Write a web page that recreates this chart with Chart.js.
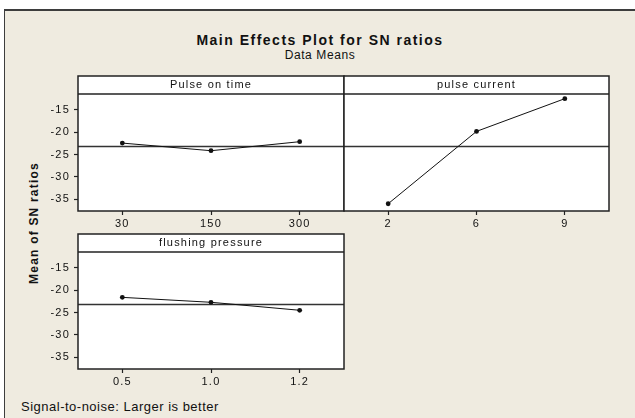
<!DOCTYPE html>
<html>
<head>
<meta charset="utf-8">
<script src="https://cdn.jsdelivr.net/npm/chart.js@4.4.1/dist/chart.umd.min.js"></script>
<style>
html,body{margin:0;padding:0;background:#fff;}
#page{position:relative;width:635px;height:418px;overflow:hidden;background:#fff;}
#frame{position:absolute;left:4px;top:9px;width:700px;height:500px;background:#EFEBE0;border-top:2px solid #3d3d3d;border-left:1.5px solid #3d3d3d;}
.txt{position:absolute;color:#111;font-family:'Liberation Sans',Arial,sans-serif;white-space:nowrap;}
#title{left:120px;width:400px;top:32px;line-height:16px;text-align:center;font-weight:bold;font-size:14px;letter-spacing:1.5px;}
#subtitle{left:120px;width:400px;top:47px;line-height:16px;text-align:center;font-size:12px;letter-spacing:0.6px;}
#ylabel{left:-46px;width:160px;top:215px;line-height:16px;text-align:center;font-weight:bold;font-size:12px;letter-spacing:1.2px;transform:rotate(-90deg);}
#footnote{left:21px;top:399px;line-height:16px;font-size:13px;letter-spacing:0.5px;}
canvas{position:absolute;}
#cA{left:0px;top:70px;}
#cB{left:338px;top:70px;}
#cC{left:0px;top:228px;}
</style>
</head>
<body>
<div id="page">
  <div id="frame"></div>
  <div class="txt" id="title">Main Effects Plot for SN ratios</div>
  <div class="txt" id="subtitle">Data Means</div>
  <div class="txt" id="ylabel">Mean of SN ratios</div>
  <div class="txt" id="footnote">Signal-to-noise: Larger is better</div>
  <canvas id="cA" width="350" height="160"></canvas>
  <canvas id="cB" width="277" height="160"></canvas>
  <canvas id="cC" width="350" height="160"></canvas>
</div>
<script>
// ---- data ----
const factorNames = ['Pulse on time', 'pulse current', 'flushing pressure'];
const pulseOnTimeLevels = ['30', '150', '300'];
const pulseOnTimeSN = [-22.45, -24.15, -22.14];
const pulseCurrentLevels = ['2', '6', '9'];
const pulseCurrentSN = [-35.98, -19.84, -12.54];
const flushingPressureLevels = ['0.5', '1.0', '1.2'];
const flushingPressureSN = [-21.62, -22.72, -24.5];
const overallMean = -23.1;
const yTickValues = [-35, -30, -25, -20, -15];
const yMin = -37.6;
const yMax = -11.5;

// ---- drawing ----
const FONT = "'Liberation Sans', Arial, sans-serif";
const STRIP_H = 18;

const panelPlugin = {
  id: 'panelFrame',
  beforeDraw(chart) {
    const ctx = chart.ctx;
    ctx.letterSpacing = '1.2px';
    const a = chart.chartArea;
    ctx.save();
    ctx.fillStyle = '#ffffff';
    ctx.fillRect(a.left, a.top - STRIP_H, a.right - a.left, a.bottom - a.top + STRIP_H);
    ctx.restore();
  },
  beforeDatasetsDraw(chart) {
    const ctx = chart.ctx;
    const a = chart.chartArea;
    const y = Math.round(chart.scales.y.getPixelForValue(overallMean)) + 0.5;
    ctx.save();
    ctx.strokeStyle = '#333333';
    ctx.lineWidth = 1.3;
    ctx.beginPath();
    ctx.moveTo(a.left, y);
    ctx.lineTo(a.right, y);
    ctx.stroke();
    ctx.restore();
  },
  afterDraw(chart) {
    const ctx = chart.ctx;
    const a = chart.chartArea;
    ctx.save();
    ctx.strokeStyle = '#222222';
    ctx.lineWidth = 1.5;
    ctx.strokeRect(a.left, a.top - STRIP_H, a.right - a.left, a.bottom - a.top + STRIP_H);
    ctx.beginPath();
    ctx.moveTo(a.left, a.top);
    ctx.lineTo(a.right, a.top);
    ctx.stroke();
    ctx.restore();
  }
};

function makePanel(id, stripText, levels, values, showY) {
  return new Chart(document.getElementById(id), {
    type: 'line',
    data: {
      labels: levels,
      datasets: [{
        data: values,
        borderColor: '#111111',
        borderWidth: 1,
        pointRadius: 2.4,
        pointBackgroundColor: '#111111',
        pointBorderColor: '#111111',
        pointBorderWidth: 0,
        tension: 0,
        fill: false
      }]
    },
    options: {
      responsive: false,
      animation: false,
      events: [],
      layout: { padding: { top: 6, left: showY ? 0 : 6, right: 6, bottom: 0 } },
      plugins: {
        legend: { display: false },
        tooltip: { enabled: false },
        title: {
          display: true,
          text: stripText,
          fullSize: false,
          padding: 0,
          color: '#111111',
          font: { family: FONT, size: 11, weight: 'normal', lineHeight: '18px' }
        }
      },
      scales: {
        x: {
          type: 'category',
          offset: true,
          grid: { display: true, offset: false, drawOnChartArea: false, drawTicks: true, tickLength: 4, tickColor: '#222222', tickWidth: 1.2 },
          border: { display: false },
          ticks: { color: '#111111', font: { family: FONT, size: 11 }, padding: 2, maxRotation: 0, autoSkip: false },
          afterFit(s) { s.height = 19; }
        },
        y: {
          display: showY,
          min: yMin,
          max: yMax,
          grid: { display: true, drawOnChartArea: false, drawTicks: true, tickLength: 4, tickColor: '#222222', tickWidth: 1.2 },
          border: { display: false },
          ticks: { color: '#111111', font: { family: FONT, size: 11 }, padding: 4, includeBounds: false },
          afterBuildTicks(s) { s.ticks = yTickValues.map(v => ({ value: v })); },
          afterFit(s) { s.width = showY ? 78 : 0; }
        }
      }
    },
    plugins: [panelPlugin]
  });
}

makePanel('cA', factorNames[0], pulseOnTimeLevels, pulseOnTimeSN, true);
makePanel('cB', factorNames[1], pulseCurrentLevels, pulseCurrentSN, false);
makePanel('cC', factorNames[2], flushingPressureLevels, flushingPressureSN, true);
</script>
</body>
</html>
